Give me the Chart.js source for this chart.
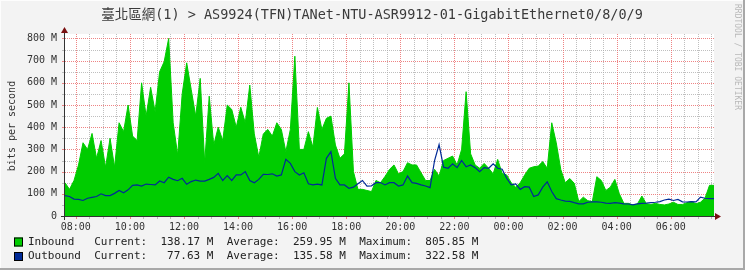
<!DOCTYPE html>
<html>
<head>
<meta charset="utf-8">
<script src="https://cdn.jsdelivr.net/npm/chart.js@4.4.1/dist/chart.umd.min.js"></script>
<style>
  html, body { margin: 0; padding: 0; background: #f3f3f3; }
</style>
</head>
<body>
<canvas id="traffic" width="745" height="270"></canvas>
<script>
const graphTitle = '臺北區網(1) > AS9924(TFN)TANet-NTU-ASR9912-01-GigabitEthernet0/8/0/9';

// 24h window, one value per 10 minutes, starting 07:36
const startHour = 7.6;
const stepHours = 1 / 6;

// Mbit/s
const inbound = [
  150, 120, 160, 230, 330, 300, 372, 260, 340, 220, 350, 220, 420, 380, 500, 360, 340, 600, 450, 580, 470, 650, 695, 800,
  420, 275, 550, 690, 570, 450, 620, 240, 540, 320, 400, 340, 500, 480, 400, 490, 420, 590, 370, 265, 370, 390, 360, 420, 390,
  290, 390, 720, 300, 300, 380, 310, 489, 390, 440, 450, 320, 260, 280, 600, 200, 120, 120, 115, 110, 160, 150, 178, 210,
  230, 190, 200, 240, 230, 230, 195, 160, 160, 210, 180, 250, 260, 270, 230, 300, 560, 280, 230, 215, 237, 215, 190, 255, 192,
  185, 150, 130, 150, 185, 215, 222, 225, 245, 215, 420, 330, 210, 150, 169, 147, 65, 85, 69, 65, 177, 160, 115, 130,
  165, 100, 57, 57, 50, 54, 90, 55, 52, 57, 52, 50, 54, 62, 52, 52, 60, 65, 55, 62, 80, 138
];
const outbound = [
  92, 88, 76, 75, 70, 80, 84, 88, 100, 92, 92, 102, 115, 105, 118, 138, 140, 135, 144, 142, 140, 158, 150, 175,
  165, 159, 170, 143, 155, 162, 157, 157, 165, 174, 192, 160, 182, 160, 185, 185, 200, 160, 150, 165, 188, 187, 190, 180, 185,
  255, 237, 200, 185, 195, 145, 140, 144, 140, 260, 290, 170, 140, 140, 125, 130, 145, 160, 135, 136, 150, 151, 140, 150,
  150, 135, 140, 180, 150, 147, 140, 135, 128, 250, 322, 220, 215, 235, 218, 250, 222, 230, 218, 200, 218, 215, 235, 215, 211,
  170, 140, 145, 120, 132, 130, 88, 95, 130, 154, 110, 78, 72, 67, 66, 60, 55, 55, 62, 64, 64, 62, 58, 57,
  60, 58, 55, 54, 50, 55, 57, 58, 60, 62, 65, 72, 76, 70, 75, 64, 63, 65, 64, 85, 80, 78
];

// current, average, maximum
const inboundStats = [138.17, 259.95, 805.85];
const outboundStats = [77.63, 135.58, 322.58];

const yTickValues = [0, 100, 200, 300, 400, 500, 600, 700, 800];
const yTickLabels = ['0', '100 M', '200 M', '300 M', '400 M', '500 M', '600 M', '700 M', '800 M'];
const xTickHours = [8, 10, 12, 14, 16, 18, 20, 22, 24, 26, 28, 30];
const xTickLabels = ['08:00', '10:00', '12:00', '14:00', '16:00', '18:00', '20:00', '22:00', '00:00', '02:00', '04:00', '06:00'];

const MONO = '"DejaVu Sans Mono", monospace';
const MAJOR = 'rgba(235, 110, 110, 0.85)';
const MINOR = 'rgba(170, 170, 170, 0.75)';

function toPoints(values) {
  const pts = values.map((v, i) => ({ x: startHour + i * stepHours, y: v }));
  pts.push({ x: startHour + values.length * stepHours, y: values[values.length - 1] });
  return pts;
}

const rrdLook = {
  id: 'rrdLook',
  beforeDraw(chart) {
    const { ctx, chartArea: a } = chart;
    ctx.save();
    ctx.fillStyle = '#f3f3f3';
    ctx.fillRect(0, 0, chart.width, chart.height);
    ctx.fillStyle = '#ffffff';
    ctx.fillRect(a.left, a.top, a.right - a.left, a.bottom - a.top);
    // frame
    ctx.fillStyle = '#fdfdfd';
    ctx.fillRect(0, 0, chart.width, 1);
    ctx.fillRect(0, 0, 1, chart.height);
    ctx.fillStyle = '#a8a8a8';
    ctx.fillRect(0, chart.height - 2, chart.width, 2);
    ctx.fillRect(chart.width - 2, 0, 2, chart.height);
    ctx.restore();
  },
  beforeDatasetsDraw(chart) {
    const { ctx, chartArea: a, scales: { x, y } } = chart;
    ctx.save();
    ctx.lineWidth = 1;
    const vline = (h, col) => {
      const px = Math.round(x.getPixelForValue(h)) + 0.5;
      ctx.strokeStyle = col;
      ctx.setLineDash([1, 1]);
      ctx.beginPath();
      ctx.moveTo(px, a.top);
      ctx.lineTo(px, a.bottom);
      ctx.stroke();
      ctx.setLineDash([]);
      ctx.beginPath();
      ctx.moveTo(px, a.bottom);
      ctx.lineTo(px, a.bottom + 3);
      ctx.stroke();
    };
    const hline = (v, col) => {
      const py = Math.round(y.getPixelForValue(v)) + 0.5;
      ctx.strokeStyle = col;
      ctx.setLineDash([1, 1]);
      ctx.beginPath();
      ctx.moveTo(a.left, py);
      ctx.lineTo(a.right, py);
      ctx.stroke();
      ctx.setLineDash([]);
      ctx.beginPath();
      ctx.moveTo(a.left - 3, py);
      ctx.lineTo(a.left, py);
      ctx.stroke();
    };
    for (let h = 8; h < x.max; h += 0.5) {
      if (h % 2 !== 0) vline(h, MINOR);
    }
    for (let v = 50; v <= 800; v += 100) hline(v, MINOR);
    xTickHours.forEach(h => vline(h, MAJOR));
    yTickValues.slice(1).forEach(v => hline(v, MAJOR));
    ctx.restore();
  },
  afterDatasetsDraw(chart) {
    const { ctx, chartArea: a } = chart;
    ctx.save();
    ctx.strokeStyle = '#333';
    ctx.lineWidth = 1;
    ctx.beginPath();
    ctx.moveTo(a.left - 4, a.bottom + 0.5);
    ctx.lineTo(a.right + 4, a.bottom + 0.5);
    ctx.moveTo(a.left - 0.5, a.bottom + 4);
    ctx.lineTo(a.left - 0.5, a.top - 3);
    ctx.stroke();
    ctx.fillStyle = '#7a1010';
    ctx.beginPath();
    ctx.moveTo(a.right + 1, a.bottom - 3);
    ctx.lineTo(a.right + 7, a.bottom + 0.5);
    ctx.lineTo(a.right + 1, a.bottom + 4);
    ctx.closePath();
    ctx.fill();
    ctx.beginPath();
    ctx.moveTo(a.left - 4, a.top - 1);
    ctx.lineTo(a.left - 0.5, a.top - 7);
    ctx.lineTo(a.left + 3, a.top - 1);
    ctx.closePath();
    ctx.fill();
    ctx.restore();
  },
  afterDraw(chart) {
    const { ctx } = chart;
    ctx.save();
    // title
    ctx.fillStyle = '#3a3a3a';
    ctx.font = '13.5px "DejaVu Sans Mono", "Noto Sans CJK TC", monospace';
    ctx.textAlign = 'center';
    ctx.textBaseline = 'middle';
    ctx.fillText(graphTitle, 372, 15);
    // y axis title
    ctx.fillStyle = '#333';
    ctx.font = '10px ' + MONO;
    ctx.translate(12, 126);
    ctx.rotate(-Math.PI / 2);
    ctx.fillText('bits per second', 0, 0);
    ctx.setTransform(1, 0, 0, 1, 0, 0);
    // watermark
    ctx.fillStyle = '#b8b8b8';
    ctx.font = '8px ' + MONO;
    ctx.translate(737, 4);
    ctx.rotate(Math.PI / 2);
    ctx.textAlign = 'left';
    ctx.fillText('RRDTOOL / TOBI OETIKER', 0, 0);
    ctx.setTransform(1, 0, 0, 1, 0, 0);
    // legend
    const fmt = v => v.toFixed(2).padStart(6, ' ') + ' M';
    const rows = [
      ['Inbound', '#00cc00', inboundStats, 242],
      ['Outbound', '#002a97', outboundStats, 256.5]
    ];
    ctx.font = '11px ' + MONO;
    ctx.textAlign = 'left';
    rows.forEach(([name, col, s, yy]) => {
      ctx.fillStyle = col;
      ctx.fillRect(14, yy - 4.5, 9, 9);
      ctx.strokeStyle = '#000';
      ctx.lineWidth = 1;
      ctx.strokeRect(14.5, yy - 4, 8, 8);
      ctx.fillStyle = '#222';
      const text = name.padEnd(10) + 'Current:  ' + fmt(s[0]) + '  Average:  ' + fmt(s[1]) + '  Maximum:  ' + fmt(s[2]);
      ctx.fillText(text, 28, yy);
    });
    ctx.restore();
  }
};

new Chart(document.getElementById('traffic'), {
  type: 'line',
  data: {
    datasets: [
      {
        label: 'Inbound',
        data: toPoints(inbound),
        fill: 'origin',
        tension: 0,
        backgroundColor: '#00cc00',
        borderColor: '#00cc00',
        borderWidth: 1,
        pointRadius: 0,
        order: 2
      },
      {
        label: 'Outbound',
        data: toPoints(outbound),
        fill: false,
        tension: 0,
        borderColor: '#002a97',
        borderWidth: 1.2,
        pointRadius: 0,
        order: 1
      }
    ]
  },
  options: {
    responsive: false,
    animation: false,
    devicePixelRatio: 1,
    layout: { padding: { top: 34, right: 31, left: 0, bottom: 0 } },
    plugins: { legend: { display: false }, tooltip: { enabled: false }, title: { display: false } },
    scales: {
      x: {
        type: 'linear',
        min: startHour,
        max: startHour + 24,
        afterBuildTicks: s => { s.ticks = xTickHours.map(h => ({ value: h })); },
        afterFit: s => { s.height = 54; },
        grid: { display: false, drawTicks: false },
        border: { display: false },
        ticks: {
          autoSkip: false,
          maxRotation: 0,
          padding: 5,
          color: '#333',
          font: { family: MONO, size: 10 },
          callback: v => xTickLabels[xTickHours.indexOf(v)]
        }
      },
      y: {
        min: 0,
        max: 820,
        afterBuildTicks: s => { s.ticks = yTickValues.map(v => ({ value: v })); },
        afterFit: s => { s.width = 65; },
        grid: { display: false, drawTicks: false },
        border: { display: false },
        ticks: {
          padding: 8,
          color: '#333',
          font: { family: MONO, size: 10 },
          callback: v => yTickLabels[yTickValues.indexOf(v)]
        }
      }
    }
  },
  plugins: [rrdLook]
});
</script>
</body>
</html>
